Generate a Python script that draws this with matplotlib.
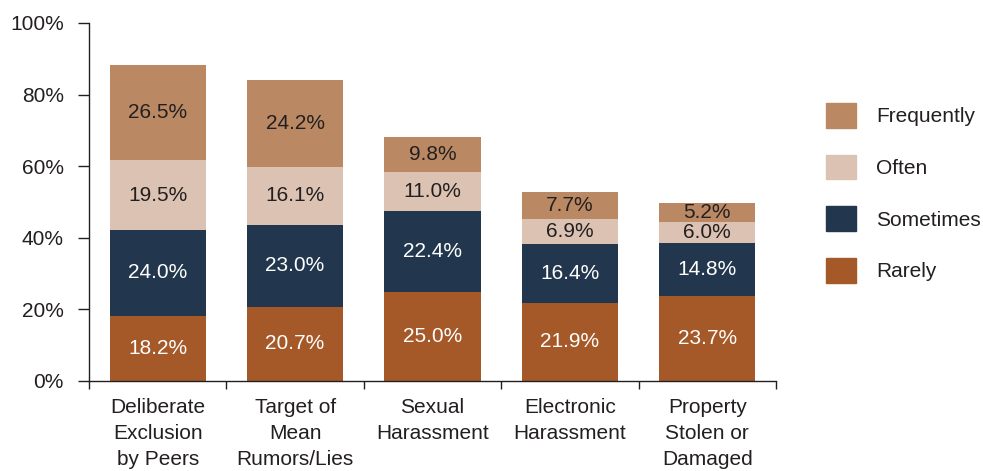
import matplotlib
matplotlib.use("Agg")
import matplotlib.pyplot as plt
from matplotlib.patches import Patch
import numpy as np

plt.rcParams['font.family'] = ['Liberation Sans', 'DejaVu Sans']

categories = ["Deliberate\nExclusion\nby Peers", "Target of\nMean\nRumors/Lies",
              "Sexual\nHarassment", "Electronic\nHarassment", "Property\nStolen or\nDamaged"]
series_names = ["Rarely", "Sometimes", "Often", "Frequently"]
rarely = [18.2, 20.7, 25.0, 21.9, 23.7]
sometimes = [24.0, 23.0, 22.4, 16.4, 14.8]
often = [19.5, 16.1, 11.0, 6.9, 6.0]
frequently = [26.5, 24.2, 9.8, 7.7, 5.2]
yticks = [0, 20, 40, 60, 80, 100]

colors = {"Rarely": "#A55828", "Sometimes": "#22374D", "Often": "#DBC2B2", "Frequently": "#BA8964"}
text_colors = {"Rarely": "white", "Sometimes": "white", "Often": "#231F20", "Frequently": "#231F20"}
FS = 15

fig = plt.figure(figsize=(9.83, 4.71), dpi=100)
ax = fig.add_axes([89/983, 1-381/471, (776-89)/983, (381-23)/471])

x = np.arange(len(categories))
bottom = np.zeros(len(categories))
for name, vals in zip(series_names, [rarely, sometimes, often, frequently]):
    vals = np.array(vals)
    ax.bar(x, vals, width=0.7, bottom=bottom, color=colors[name], label=name)
    for xi, b, v in zip(x, bottom, vals):
        ax.text(xi, b + v/2, f"{v:.1f}%", ha='center', va='center',
                color=text_colors[name], fontsize=FS)
    bottom += vals

ax.set_xlim(-0.5, len(categories) - 0.5)
ax.set_ylim(0, 100)
ax.set_yticks(yticks)
ax.set_yticklabels([f"{t}%" for t in yticks], fontsize=FS, color="#231F20")
ax.set_xticks(x)
ax.set_xticklabels(categories, fontsize=FS, color="#231F20", linespacing=1.47)
ax.tick_params(axis='x', which='major', length=0, pad=12)
ax.set_xticks(np.arange(len(categories) + 1) - 0.5, minor=True)
ax.tick_params(axis='x', which='minor', length=6, width=1, color="#231F20", direction='out')
ax.tick_params(axis='y', length=8, width=1, color="#231F20", direction='out', pad=10)
for s in ['top', 'right']:
    ax.spines[s].set_visible(False)
for s in ['left', 'bottom']:
    ax.spines[s].set_color("#231F20")
    ax.spines[s].set_linewidth(1)

handles = [Patch(color=colors[n]) for n in ["Frequently", "Often", "Sometimes", "Rarely"]]
fig.legend(handles, ["Frequently", "Often", "Sometimes", "Rarely"],
           loc='upper left', bbox_to_anchor=(826/983, 1-103/471), frameon=False,
           fontsize=FS, handlelength=1.44, handleheight=1.44, labelspacing=1.3,
           handletextpad=0.96, borderaxespad=0, borderpad=0, labelcolor="#231F20")

fig.savefig("out.png", dpi=100)
